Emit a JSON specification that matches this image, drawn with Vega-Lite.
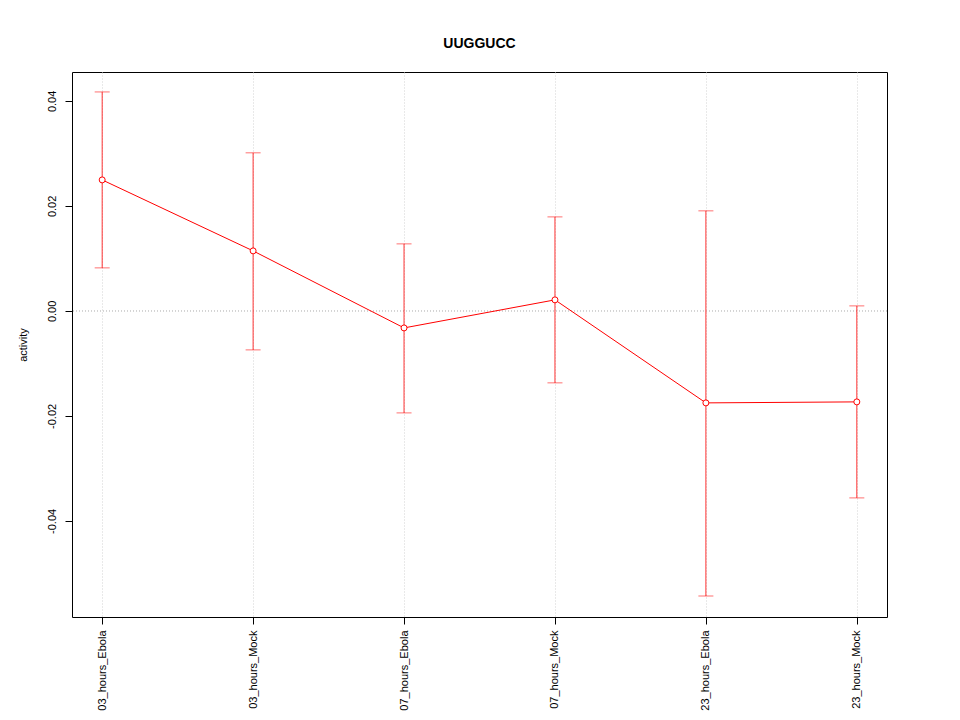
{
  "$schema": "https://vega.github.io/schema/vega-lite/v6.json",
  "width": 815,
  "height": 545,
  "autosize": {"type": "none"},
  "padding": {"left": 72, "top": 72, "right": 73, "bottom": 103},
  "background": "white",
  "config": {
    "font": "Liberation Sans",
    "view": {"stroke": "black", "strokeWidth": 1},
    "axis": {"domain": false, "labelColor": "black", "tickColor": "black", "labelFontSize": 11, "titleFontWeight": "normal", "titleFontSize": 11, "titleColor": "black", "tickSize": 7}
  },
  "title": {"text": "UUGGUCC", "fontSize": 14, "fontWeight": "bold", "baseline": "alphabetic", "offset": 10, "color": "black"},
  "data": {
    "values": [
      {"group": "03_hours_Ebola", "mean": 0.02495, "lower": 0.00819, "upper": 0.0417},
      {"group": "03_hours_Mock", "mean": 0.01143, "lower": -0.00743, "upper": 0.0301},
      {"group": "07_hours_Ebola", "mean": -0.00324, "lower": -0.01943, "upper": 0.01276},
      {"group": "07_hours_Mock", "mean": 0.0021, "lower": -0.01371, "upper": 0.0179},
      {"group": "23_hours_Ebola", "mean": -0.01752, "lower": -0.0543, "upper": 0.01905},
      {"group": "23_hours_Mock", "mean": -0.01733, "lower": -0.03562, "upper": 0.00095}
    ]
  },
  "encoding": {
    "x": {
      "field": "group", "type": "ordinal",
      "scale": {"type": "point", "padding": 0.2},
      "axis": {"title": null, "labelAngle": 270, "labelAlign": "right", "labelBaseline": "middle", "labelPadding": 6, "grid": true, "gridColor": "#d3d3d3", "gridDash": [1, 2]}
    }
  },
  "layer": [
    {
      "mark": {"type": "rule", "color": "#d3d3d3", "strokeDash": [1, 2]},
      "encoding": {"y": {"datum": 0, "type": "quantitative"}, "x": null}
    },
    {
      "mark": {"type": "rule", "color": "red", "strokeWidth": 0.8},
      "encoding": {
        "y": {"field": "lower", "type": "quantitative",
          "scale": {"domain": [-0.0583, 0.0455], "nice": false, "zero": false},
          "axis": {"title": "activity", "values": [-0.04, -0.02, 0, 0.02, 0.04], "labelExpr": "replace(format(datum.value, '.2f'), '\u2212', '-')", "labelAngle": 270, "labelAlign": "center", "labelBaseline": "bottom", "labelPadding": 8, "grid": false, "titlePadding": 18}},
        "y2": {"field": "upper"}
      }
    },
    {
      "mark": {"type": "tick", "color": "red", "orient": "horizontal", "size": 15, "thickness": 0.8},
      "encoding": {"y": {"field": "upper", "type": "quantitative"}}
    },
    {
      "mark": {"type": "tick", "color": "red", "orient": "horizontal", "size": 15, "thickness": 0.8},
      "encoding": {"y": {"field": "lower", "type": "quantitative"}}
    },
    {
      "mark": {"type": "line", "color": "red", "strokeWidth": 1},
      "encoding": {"y": {"field": "mean", "type": "quantitative"}}
    },
    {
      "mark": {"type": "point", "color": "red", "filled": false, "fill": "white", "size": 36, "strokeWidth": 1, "opacity": 1},
      "encoding": {"y": {"field": "mean", "type": "quantitative"}}
    }
  ]
}
